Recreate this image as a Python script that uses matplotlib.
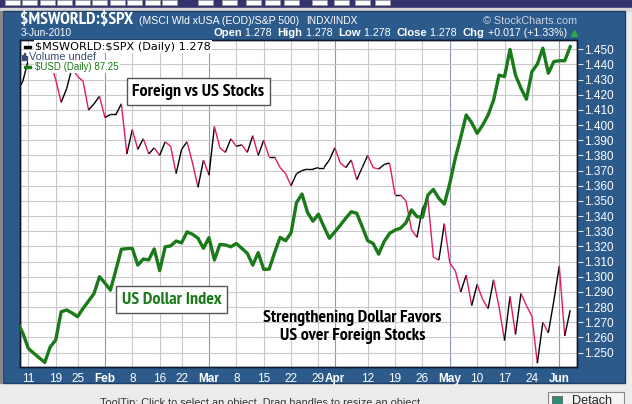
import numpy as np
import matplotlib.pyplot as plt
from matplotlib.collections import LineCollection
from matplotlib.patches import Rectangle
from matplotlib import font_manager
from matplotlib.font_manager import FontProperties

W, H = 632, 404

# dias de bolsa: indice 0 = 11-Jan-2010, 99 = 3-Jun-2010
dias = np.arange(-2, 100)

ratio = [1.422, 1.429, 1.443, 1.448, 1.444, 1.450, 1.442, 1.430, 1.415, 1.424,
         1.438, 1.432, 1.429, 1.410, 1.414, 1.419, 1.405, 1.407, 1.407, 1.414,
         1.381, 1.397, 1.384, 1.391, 1.381, 1.385, 1.380, 1.389, 1.386, 1.368,
         1.384, 1.389, 1.375, 1.359, 1.377, 1.367, 1.399, 1.385, 1.382, 1.391,
         1.386, 1.387, 1.382, 1.393, 1.380, 1.390, 1.379, 1.379, 1.372, 1.368,
         1.360, 1.368, 1.370, 1.371, 1.371, 1.372, 1.372, 1.377, 1.385, 1.375,
         1.372, 1.377, 1.364, 1.372, 1.380, 1.372, 1.371, 1.374, 1.375, 1.354,
         1.354, 1.350, 1.331, 1.326, 1.345, 1.351, 1.313, 1.311, 1.335, 1.309,
         1.304, 1.290, 1.301, 1.281, 1.295, 1.285, 1.279, 1.298, 1.280, 1.258,
         1.287, 1.262, 1.289, 1.281, 1.274, 1.243, 1.270, 1.263, 1.284, 1.307,
         1.261, 1.278]

usd = [78.22, 77.86, 77.36, 77.20, 77.05, 76.90, 77.41, 77.63, 78.56, 78.62,
       78.52, 78.40, 78.67, 78.91, 79.16, 79.71, 79.50, 79.27, 79.93, 80.61,
       80.63, 80.64, 80.09, 80.29, 80.26, 80.62, 79.91, 80.69, 80.72, 80.88,
       80.82, 81.18, 81.10, 80.97, 80.64, 80.99, 80.26, 80.77, 80.75, 80.69,
       80.80, 80.64, 80.48, 80.09, 80.50, 79.95, 79.96, 80.50, 81.00, 80.89,
       81.15, 82.14, 82.42, 81.82, 81.53, 81.76, 81.35, 80.97, 81.18, 81.40,
       81.63, 81.84, 81.79, 81.35, 80.89, 80.80, 80.45, 80.86, 81.13, 81.24,
       81.30, 81.48, 81.90, 81.68, 81.66, 82.39, 82.57, 82.28, 82.09, 82.77,
       83.59, 84.28, 85.01, 84.76, 84.41, 84.68, 85.01, 85.50, 86.32, 86.27,
       87.16, 86.32, 85.89, 85.53, 86.43, 86.68, 87.20, 86.38, 86.76, 86.79,
       86.79, 87.25]

tick_pos = [0, 5, 9, 14, 19, 24, 28, 33, 38, 43, 48, 53, 56, 62, 67, 72, 77, 82, 87, 92, 97]
tick_lbl = ['11', '19', '25', 'Feb', '8', '16', '22', 'Mar', '8', '15', '22', '29', 'Apr',
            '12', '19', '26', 'May', '10', '17', '24', 'Jun']
meses = ['Feb', 'Mar', 'Apr', 'May', 'Jun']
niveles = np.round(np.arange(1.25, 1.4501, 0.01), 3)

AZUL = '#2C5A8A'
VERDE = '#1A7A1A'
ROJO = '#E8185A'

fig = plt.figure(figsize=(W / 100, H / 100), dpi=100, facecolor='#ECECEC')
rend = fig.canvas.get_renderer()

# la negrita sans mas estrecha que haya (el original usa una letra condensada)
muestra = 'Foreign vs US Stocks'
estrecha, mejor = None, 1e9
for f in font_manager.fontManager.ttflist:
    nom = f.fname.lower()
    if f.style != 'normal' or f.weight not in ('bold', 700):
        continue
    if not any(k in nom for k in ('sans', 'roboto', 'lato', 'inter')) or 'mono' in nom \
            or 'cjk' in nom or 'serif' in nom.replace('sans', ''):
        continue
    try:
        w, h, d = rend.get_text_width_height_descent(muestra, FontProperties(fname=f.fname, size=10),
                                                     ismath=False)
    except Exception:
        continue
    if w < mejor:
        estrecha, mejor = f.fname, w


def negrita(size=10):
    if estrecha:
        return FontProperties(fname=estrecha, size=size)
    return FontProperties(family='Liberation Sans', weight='bold', size=size)


def ajustar(t, ancho):
    # escala el tamaño de letra para que el texto ocupe el ancho del original
    w = t.get_window_extent(rend).width
    t.set_fontsize(t.get_fontsize() * ancho / w)
    return t


# fondo en pixeles
bg = fig.add_axes([0, 0, 1, 1], zorder=-5)
bg.set_xlim(0, W)
bg.set_ylim(H, 0)
bg.axis('off')
bg.add_patch(Rectangle((0, 0), W, 8, color='#34336E'))
for x0 in [5, 22, 40, 57, 75, 92, 110, 127, 145, 162, 198, 222, 246, 265, 284, 312, 334, 355, 375]:
    bg.add_patch(Rectangle((x0, 0), 15, 5, facecolor='white', edgecolor='#999999', lw=0.5))
bg.add_patch(Rectangle((0, 8), W, 3, color='#D8D8D8'))
bg.add_patch(Rectangle((3, 11), 622, 372, facecolor=AZUL, edgecolor='#1E3E66', lw=1))
bg.add_patch(Rectangle((0, 11), 2, 372, color='#888888'))
bg.add_patch(Rectangle((548, 392), 76, 14, facecolor='#F4F4F4', edgecolor='#888888', lw=0.8))
bg.add_patch(Rectangle((552, 396), 10, 10, facecolor='#2E8B7A', edgecolor='#555555', lw=0.5))
ajustar(bg.text(572, 401.5, 'Detach', fontsize=10, family='Liberation Sans', color='#222222',
                va='center'), 40)
ajustar(bg.text(100, 403, 'ToolTip: Click to select an object. Drag handles to resize an object.',
                fontsize=8.5, family='Liberation Sans', color='#333333', va='center'), 320)

ajustar(bg.text(20, 20, '$MSWORLD:$SPX', fontproperties=negrita(), color='white', va='center',
                parse_math=False), 113)
ajustar(bg.text(139, 21, '(MSCI Wld xUSA (EOD)/S&P 500)', fontsize=8, family='Liberation Sans',
                color='white', va='center'), 161)
ajustar(bg.text(306, 21, 'INDX/INDX', fontsize=8, family='Liberation Sans', color='white',
                va='center'), 51)
ajustar(bg.text(577, 20.5, '© StockCharts.com', fontsize=8.5, family='Liberation Sans',
                color='#C9D3E0', va='center', ha='right'), 93)
ajustar(bg.text(20.5, 33.5, '3-Jun-2010', fontsize=8, family='Liberation Sans', color='white',
                va='center'), 51)

partes = [('Open', True), (' 1.278  ', False), ('High', True), (' 1.278  ', False),
          ('Low', True), (' 1.278  ', False), ('Close', True), (' 1.278  ', False),
          ('Chg', True), (' +0.017 (+1.33%)', False)]
anchos = []
for txt, neg in partes:
    t = bg.text(0, 0, txt, fontsize=8.5 if neg else 8, family='Liberation Sans',
                weight='bold' if neg else 'normal')
    anchos.append(t.get_window_extent(rend).width)
    t.remove()
esc = 354 / sum(anchos)
x = 213
for (txt, neg), w in zip(partes, anchos):
    bg.text(x, 33.5, txt, fontsize=(8.5 if neg else 8) * esc, family='Liberation Sans',
            weight='bold' if neg else 'normal', color='white', va='center')
    x += w * esc
bg.plot([574], [33], marker='^', color='#2FA84F', ms=4)

# grafico principal
ax = fig.add_axes([20 / W, (H - 367) / H, 557 / W, 327 / H])
ax.set_xlim(-1.52, 100.24)
ax.set_ylim(1.2405, 1.4561)
ax.set_facecolor('white')

ax2 = ax.twinx()
ax2.set_ylim(76.75, 87.47)
ax2.set_yticks([])
ax2.plot(dias, usd, color=VERDE, lw=2.4, solid_joinstyle='round', zorder=3)

ax.yaxis.tick_right()
ax.set_yticks(niveles)
ax.set_yticklabels([f'{v:.3f}' for v in niveles])
ax.set_xticks(tick_pos)
ax.set_xticklabels(tick_lbl)
for lab in ax.get_xticklabels():
    if lab.get_text() in meses:
        lab.set_fontweight('bold')
        lab.set_fontsize(10)
ax.tick_params(axis='y', colors='#E0E0E0', labelcolor='white', length=4, width=0.8,
               labelsize=8.5, pad=1)
ax.tick_params(axis='x', length=0, labelcolor='white', labelsize=8.5, pad=4)
for lab in ax.get_xticklabels() + ax.get_yticklabels():
    lab.set_family('Liberation Sans')

ax.grid(True, color='#C9C9C9', lw=0.8)
for g, lab in zip(ax.get_xgridlines(), tick_lbl):
    if lab in meses:
        g.set_color('#8E9AB3')
ax.set_axisbelow(True)
for s in list(ax.spines.values()) + list(ax2.spines.values()):
    s.set_color('#101830')
    s.set_linewidth(1)

pts = np.column_stack([dias, ratio])
segs = np.stack([pts[:-1], pts[1:]], axis=1)
cols = ['black' if b >= a else ROJO for a, b in zip(ratio[:-1], ratio[1:])]
ax.add_collection(LineCollection(segs, colors=cols, linewidths=1.0, zorder=3))


# leyenda y notas, en pixeles sobre el grafico
def px(x, y):
    return dict(x=x, y=y, transform=bg.transData)


leg = [('$MSWORLD:$SPX (Daily) 1.278', 'black', 46.5, 35, 176, 'DejaVu Sans'),
       ('Volume undef', '#3A4A6E', 56.5, 29, 67, 'Liberation Sans'),
       ('$USD (Daily) 87.25', VERDE, 66.5, 35, 84, 'Liberation Sans')]
for txt, c, yy, xx, ww, fam in leg:
    ajustar(fig.text(s=txt, color=c, fontsize=8.2, family=fam, va='center', zorder=5,
                     parse_math=False, bbox=dict(facecolor='white', edgecolor='none', pad=1),
                     **px(xx, yy)), ww)
fig.patches.append(Rectangle((24, 45.5), 7, 2.2, color='black', transform=bg.transData, zorder=6))
fig.patches.append(Rectangle((24, 65.5), 7, 2.2, color=VERDE, transform=bg.transData, zorder=6))
for k, hh in enumerate([5, 7, 4]):
    fig.patches.append(Rectangle((21.5 + 2 * k, 60 - hh), 1.5, hh, color='#3A4A6E',
                                 transform=bg.transData, zorder=6))

caja = dict(facecolor='white', edgecolor='#555555', lw=1, boxstyle='square,pad=0.3')
ajustar(fig.text(s='Foreign vs US Stocks', fontproperties=negrita(), color='black',
                 ha='center', va='center', zorder=5, bbox=caja, **px(198.5, 91.5)), 132)
ajustar(fig.text(s='US Dollar Index', fontproperties=negrita(), color=VERDE,
                 ha='center', va='center', zorder=5, bbox=caja, **px(171.5, 299.5)), 100)
ajustar(fig.text(s='Strengthening Dollar Favors\nUS over Foreign Stocks', fontproperties=negrita(),
                 color='black', ha='center', va='center', linespacing=1.1, zorder=5,
                 **px(352.5, 327)), 179)

fig.savefig('out.png', dpi=100, facecolor=fig.get_facecolor())
